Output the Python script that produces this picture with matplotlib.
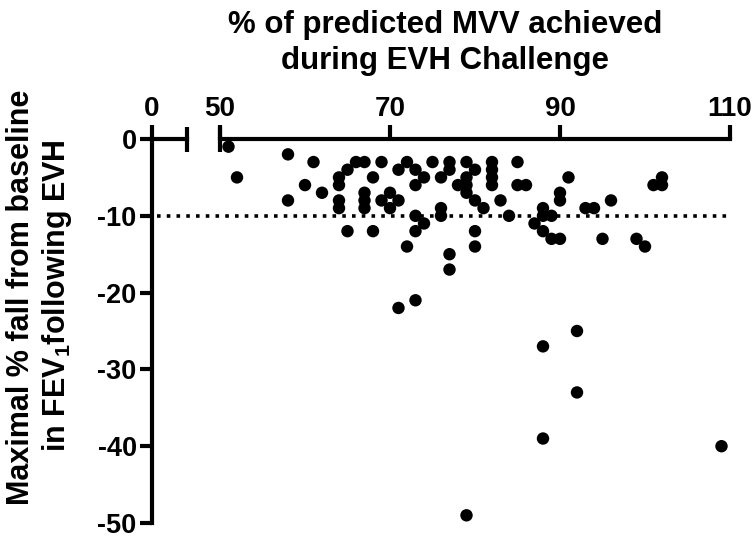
import matplotlib
matplotlib.use("Agg")
import matplotlib.pyplot as plt
from matplotlib.ticker import FixedLocator

plt.rcParams['font.family'] = ['Liberation Sans', 'DejaVu Sans']
plt.rcParams['font.weight'] = 'bold'
plt.rcParams['axes.unicode_minus'] = False
plt.rcParams['mathtext.fontset'] = 'custom'
plt.rcParams['mathtext.rm'] = 'Liberation Sans:bold'
plt.rcParams['mathtext.bf'] = 'Liberation Sans:bold'

# Data: % predicted MVV achieved (x) vs maximal % fall in FEV1 (y)
mvv = [51, 52, 58, 58, 60, 61, 62,
       64, 64, 64, 64, 65, 66, 67, 67, 67, 67, 68, 69, 69, 70, 71, 70, 71, 72, 73, 73, 74,
       73, 74, 65, 68, 73, 72, 71, 73,
       75, 76, 77, 77, 76, 76, 78, 79, 80, 79, 79, 79, 80, 81, 82, 82, 82, 82, 83, 84,
       85, 85, 86, 80, 80, 77, 77, 79,
       87, 88, 88, 88, 89, 89, 90, 90, 90, 91, 93, 94, 95, 96, 99, 100, 101, 102, 102,
       88, 92, 92, 88, 109]
fev_fall = [-1, -5, -2, -8, -6, -3, -7,
            -5, -6, -8, -9, -4, -3, -3, -7, -8, -9, -5, -3, -8, -7, -8, -9, -4, -3, -4, -6, -5,
            -10, -11, -12, -12, -12, -14, -22, -21,
            -3, -5, -3, -4, -9, -10, -6, -3, -4, -5, -6, -7, -8, -9, -3, -4, -5, -6, -8, -10,
            -3, -6, -6, -12, -14, -15, -17, -49,
            -11, -9, -10, -12, -10, -13, -13, -7, -8, -5, -9, -9, -13, -8, -13, -14, -6, -5, -6,
            -27, -25, -33, -39, -40]

threshold = -10
x_ticks_main = [50, 70, 90, 110]
x_ticks_stub = [0]
y_ticks = [0, -10, -20, -30, -40, -50]

W, H = 756, 545
fig = plt.figure(figsize=(W / 100, H / 100), dpi=100)

def fx(px):
    return px / W

def fy(py):
    return 1 - py / H

y_top, y_bot = 139, 523
# Stub axis (0 segment) carrying the y axis
ax1 = fig.add_axes([fx(152), fy(y_bot), fx(187 - 152), fy(y_top) - fy(y_bot)])
# Main axis (50-110)
ax2 = fig.add_axes([fx(220), fy(y_bot), fx(730 - 220), fy(y_top) - fy(y_bot)])

lw = 3.0
for ax in (ax1, ax2):
    ax.set_facecolor('none')
    ax.set_ylim(-50, 0)
    for s in ('bottom', 'right'):
        ax.spines[s].set_visible(False)
    ax.spines['top'].set_linewidth(lw)
    ax.spines['left'].set_linewidth(lw)
    ax.xaxis.set_ticks_position('top')
    ax.xaxis.set_label_position('top')
    ax.tick_params(axis='x', which='major', direction='out', length=10, width=lw,
                   labelsize=20, pad=2)
    ax.tick_params(axis='x', which='minor', direction='inout', length=18, width=lw)
    ax.xaxis.remove_overlapping_locs = False

ax1.set_xlim(0, 35 / 8.5)
ax1.set_xticks(x_ticks_stub)
ax1.xaxis.set_minor_locator(FixedLocator([35 / 8.5]))
ax1.set_yticks(y_ticks)
ax1.set_yticklabels([str(v) for v in y_ticks])
ax1.tick_params(axis='y', direction='out', length=9, width=lw, labelsize=19.5, pad=2)

ax2.set_xlim(50, 110)
ax2.set_xticks(x_ticks_main)
ax2.xaxis.set_minor_locator(FixedLocator([50]))
ax2.spines['left'].set_visible(False)
ax2.tick_params(axis='y', left=False, labelleft=False)

for lab in ax1.get_xticklabels() + ax1.get_yticklabels() + ax2.get_xticklabels():
    lab.set_fontweight('bold')

# Threshold dotted line across the whole width
ax2.axhline(threshold, xmin=-(220 - 157) / 510, xmax=1.0, color='black',
            linestyle=(0, (1.0, 1.7)), linewidth=2.6, clip_on=False, zorder=1)

ax2.scatter(mvv, fev_fall, s=80, color='black', edgecolors='none', clip_on=False, zorder=3)

fig.text(fx(445), fy(25), '% of predicted MVV achieved', ha='center', va='center',
         fontsize=22.5, fontweight='bold')
fig.text(fx(445), fy(61), 'during EVH Challenge', ha='center', va='center',
         fontsize=22.5, fontweight='bold')

fig.text(fx(21), fy(297), 'Maximal % fall from baseline', rotation=90, ha='center',
         va='center', fontsize=22, fontweight='bold')
fig.text(fx(57), fy(296), r'in FEV$_{\mathbf{1}}$following EVH', rotation=90, ha='center',
         va='center', fontsize=22, fontweight='bold')

fig.savefig('out.png', dpi=100)
